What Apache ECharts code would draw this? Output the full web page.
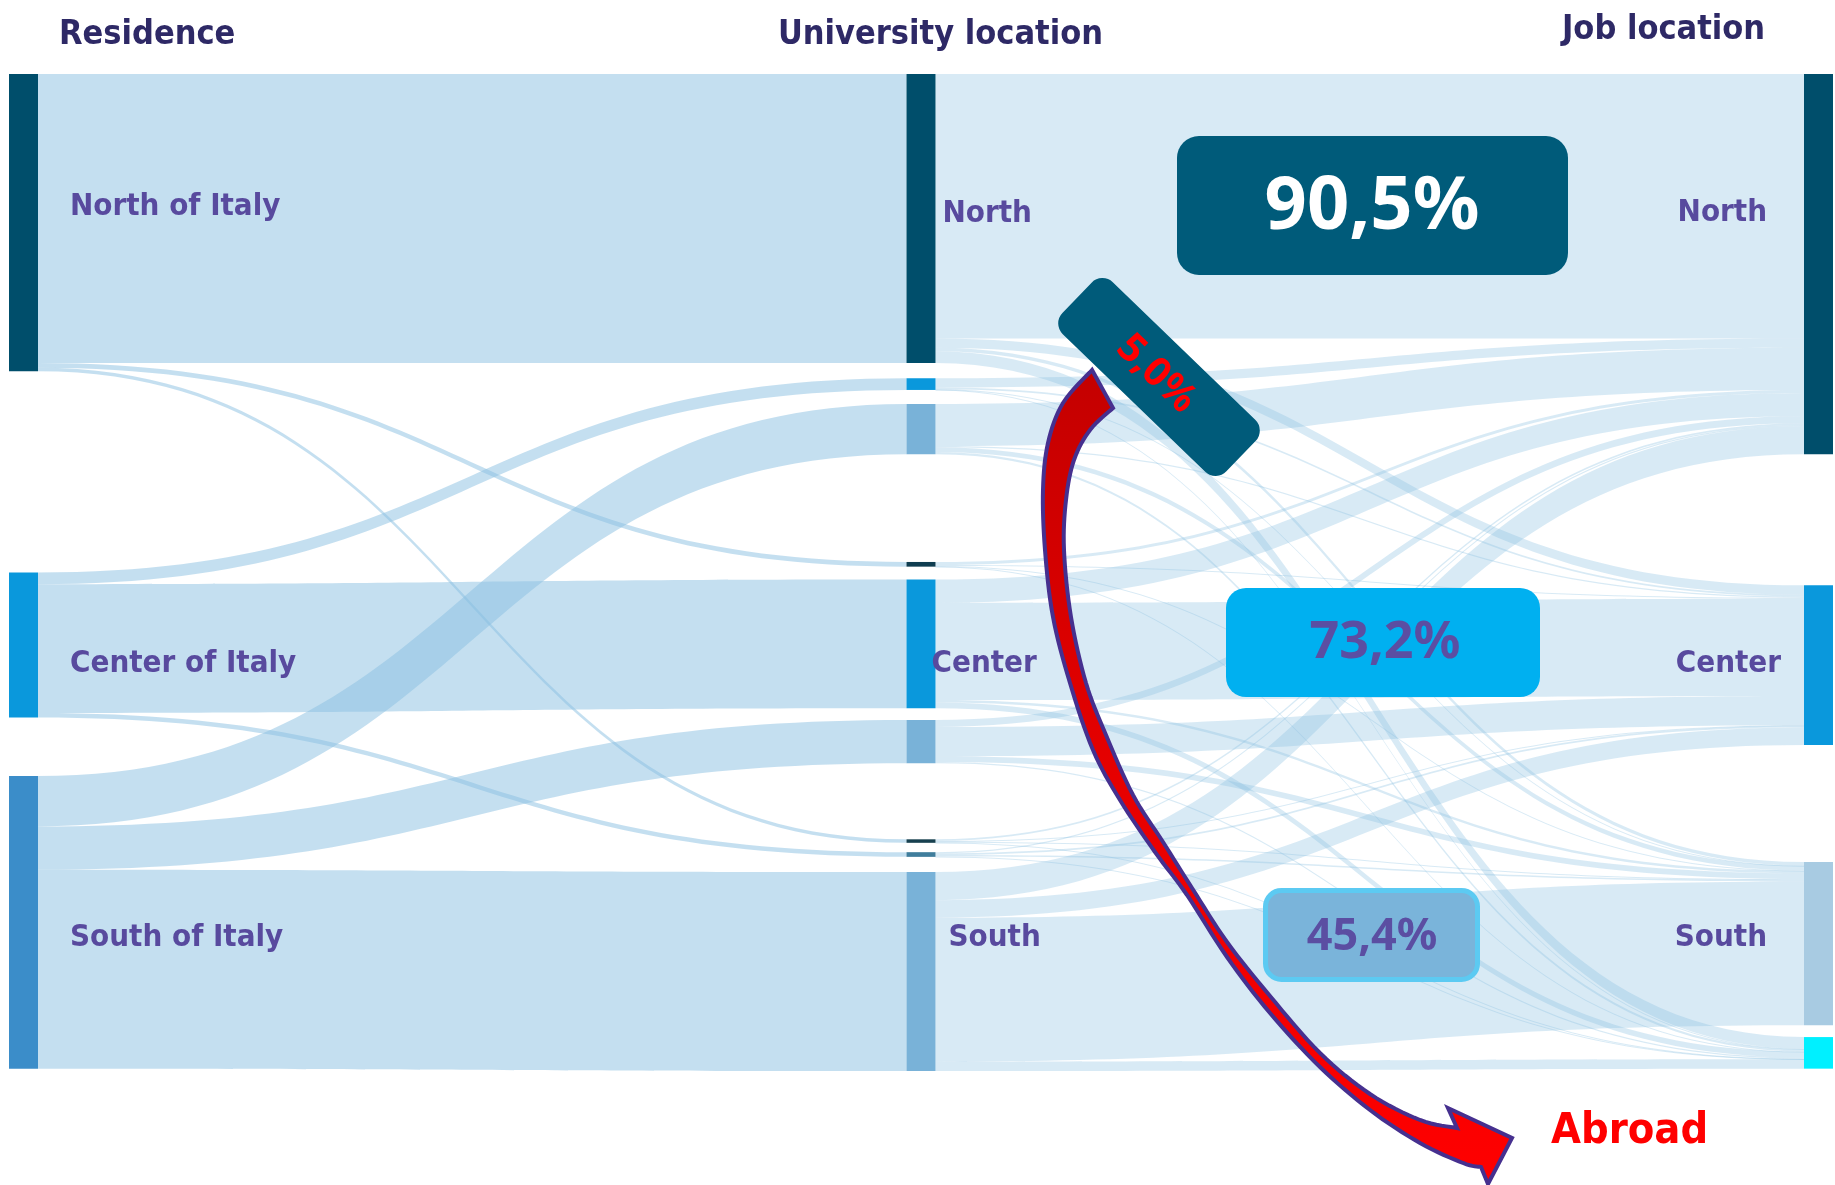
<!DOCTYPE html>
<html>
<head>
<meta charset="utf-8">
<script src="https://cdn.jsdelivr.net/npm/echarts@6/dist/echarts.min.js"></script>
<style>
html,body{margin:0;padding:0;background:#ffffff;}
#chart{width:1835px;height:1185px;}
</style>
</head>
<body>
<div id="chart"></div>
<script>
// ================= DATA =================
const residences = ['North of Italy', 'Center of Italy', 'South of Italy'];
const universities = ['North', 'Center', 'South'];
const jobs = ['North', 'Center', 'South', 'Abroad'];
// rows: residence (N, C, S) ; columns: university location (N, C, S)
const residenceToUniversity = [
  [247, 4, 3],
  [10, 110, 4],
  [43, 37, 170]
];
// graduates of each university location, rows = residence (N, C, S), columns = job (N, C, S, Abroad)
const fromNorthUniversity  = [[226, 8, 3, 10], [8, 1.5, 0.2, 0.3], [36, 1, 4, 2]];
const fromCenterUniversity = [[2.5, 1, 0.3, 0.2], [20, 83, 2, 5], [6, 25, 5, 1]];
const fromSouthUniversity  = [[1.5, 0.5, 0.8, 0.2], [1, 1.5, 1.2, 0.3], [24, 15, 123, 8]];
const shareLabels = ['90,5%', '73,2%', '45,4%', '5,0%'];
const headers = ['Residence', 'University location', 'Job location'];
const abroadLabel = 'Abroad';

// ================= LAYOUT / STYLE =================
const LAYOUT = { left: 9, top: 74, width: 1824, height: 997, nodeWidth: 29 };
// vertical gaps between nodes of each column, in value units
const GAPS = { left: [172, 50], middle: [13, 12, 92, 11, 10, 65, 8, 13], right: [112, 100, 10] };
const leftColors = ['#004e6b', '#0a98dc', '#3b8dc9'];
const middleColors = ['#004e6b', '#0a98dc', '#79b2d8', '#0f3d50', '#0a98dc', '#79b2d8', '#17404f', '#3f7d9c', '#79b2d8'];
const rightColors = ['#004e6b', '#0a98dc', '#a8cbe2', '#00f0ff'];
const LABEL_FONT = '"DejaVu Sans Condensed", "DejaVu Sans", sans-serif';
const labelColor = '#584a9e';

const uniFlows = [fromNorthUniversity, fromCenterUniversity, fromSouthUniversity];

// node names
const resName = r => residences[r];
const uniName = (u, r) => 'University ' + universities[u] + ' / ' + residences[r];
const jobName = j => 'Job ' + jobs[j];

// values per column
const leftVals = residences.map((_, r) => residenceToUniversity[r].reduce((a, b) => a + b, 0));
const middleKeys = [];
universities.forEach((_, u) => residences.forEach((_, r) => middleKeys.push([u, r])));
const middleVals = middleKeys.map(([u, r]) => residenceToUniversity[r][u]);
const rightVals = jobs.map((_, j) => {
  let s = 0;
  uniFlows.forEach(m => m.forEach(row => { s += row[j]; }));
  return s;
});

function tops(vals, gaps) {
  let y = 0;
  return vals.map((v, i) => { const t = y; y += v + (gaps[i] || 0); return t; });
}
const midTotal = middleVals.reduce((a, b) => a + b, 0) + GAPS.middle.reduce((a, b) => a + b, 0);
const ky = LAYOUT.height / midTotal;
const nodeGap = (LAYOUT.height - middleVals.reduce((a, b) => a + b, 0) * ky) / (middleVals.length - 1);
const leftTops = tops(leftVals, GAPS.left);
const middleTops = tops(middleVals, GAPS.middle);
const rightTops = tops(rightVals, GAPS.right);

function lbl(text, position, distance, offset) {
  return {
    show: true, position: position, distance: distance, offset: offset, formatter: text,
    color: labelColor, fontFamily: LABEL_FONT, fontWeight: 'bold', fontSize: 31
  };
}
const leftLabels = [
  lbl('North of Italy', 'right', 32, [0, -16]),
  lbl('Center of Italy', 'right', 32, [0, 19]),
  lbl('South of Italy', 'right', 32, [0, 16])
];
const middleLabels = {
  0: lbl('North', 'right', 7, [0, -5]),
  4: lbl('Center', 'right', 0, [-4, 20]),
  8: lbl('South', 'right', 13, [0, -34])
};
const rightLabels = [
  lbl('North', 'left', 37, [0, -51]),
  lbl('Center', 'left', 23, [0, -1]),
  lbl('South', 'left', 37, [0, -6]),
  { show: false }
];

const nodes = [];
residences.forEach((_, r) => nodes.push({
  name: resName(r), localY: leftTops[r] / midTotal,
  itemStyle: { color: leftColors[r] }, label: leftLabels[r]
}));
middleKeys.forEach(([u, r], i) => nodes.push({
  name: uniName(u, r), localY: middleTops[i] / midTotal,
  itemStyle: { color: middleColors[i] }, label: middleLabels[i] || { show: false }
}));
jobs.forEach((_, j) => nodes.push({
  name: jobName(j), localY: rightTops[j] / midTotal,
  itemStyle: { color: rightColors[j] }, label: rightLabels[j]
}));

const links = [];
residences.forEach((_, r) => universities.forEach((_, u) => {
  links.push({ source: resName(r), target: uniName(u, r), value: residenceToUniversity[r][u],
    lineStyle: { color: '#89bfe1', opacity: 0.5 } });
}));
middleKeys.forEach(([u, r]) => jobs.forEach((_, j) => {
  links.push({ source: uniName(u, r), target: jobName(j), value: uniFlows[u][r][j],
    lineStyle: { color: '#89bfe1', opacity: 0.33 } });
}));

// ---------- red arrow (annotation) ----------
function spline(pts, n) {
  const out = [];
  for (let i = 0; i < pts.length - 1; i++) {
    const p0 = pts[Math.max(i - 1, 0)], p1 = pts[i], p2 = pts[i + 1], p3 = pts[Math.min(i + 2, pts.length - 1)];
    for (let k = 0; k < n; k++) {
      const t = k / n, t2 = t * t, t3 = t2 * t;
      const f = d => 0.5 * (2 * p1[d] + (-p0[d] + p2[d]) * t + (2 * p0[d] - 5 * p1[d] + 4 * p2[d] - p3[d]) * t2 + (-p0[d] + 3 * p1[d] - 3 * p2[d] + p3[d]) * t3);
      out.push([f(0), f(1)]);
    }
  }
  out.push(pts[pts.length - 1]);
  return out;
}
const arrowOuter = [[1092,370],[1063,403],[1048,443],[1043,490],[1045,550],[1053,617],[1070,683],[1093,750],[1120,800],[1155,852],[1187,895],[1227,957],[1270,1013],[1320,1067],[1370,1110],[1420,1143],[1463,1163],[1481,1167]];
const arrowHead = [[1488,1184],[1512,1138],[1448,1108]];
const arrowInner = [[1457,1128],[1420,1120],[1370,1094],[1320,1053],[1270,996],[1227,942],[1192,888],[1163,842],[1133,795],[1106,735],[1086,683],[1071,617],[1064,550],[1066,500],[1074,460],[1090,430],[1113,408]];
const arrowPoints = spline(arrowOuter, 8).concat(arrowHead).concat(spline(arrowInner, 8));

const PCT_FONT = '"Noto Sans", "Open Sans", sans-serif';
const titleStyle = (text) => ({ text: text, fill: '#2e2966', fontFamily: LABEL_FONT, fontWeight: 'bold', fontSize: 34, verticalAlign: 'middle', textVerticalAlign: 'middle' });
const centered = { align: 'center', textAlign: 'center', verticalAlign: 'middle', textVerticalAlign: 'middle' };

const chart = echarts.init(document.getElementById('chart'), null, { renderer: 'canvas' });
chart.setOption({
  backgroundColor: '#ffffff',
  animation: false,
  series: [{
    type: 'sankey',
    left: LAYOUT.left, top: LAYOUT.top, width: LAYOUT.width, height: LAYOUT.height,
    nodeWidth: LAYOUT.nodeWidth,
    nodeGap: nodeGap,
    layoutIterations: 0,
    draggable: false,
    emphasis: { disabled: true },
    label: { show: false },
    itemStyle: { borderWidth: 0 },
    lineStyle: { curveness: 0.5 },
    data: nodes,
    links: links
  }],
  graphic: { elements: [
    { type: 'text', x: 59, y: 35, z: 100, style: titleStyle(headers[0]) },
    { type: 'text', x: 778, y: 35, z: 100, style: titleStyle(headers[1]) },
    { type: 'text', x: 1562, y: 30, z: 100, style: titleStyle(headers[2]) },
    { type: 'polygon', z: 100, shape: { points: arrowPoints },
      style: { fill: { type: 'linear', x: 0, y: 0, x2: 0, y2: 1, colorStops: [{ offset: 0, color: '#c40000' }, { offset: 0.5, color: '#e60000' }, { offset: 1, color: '#ff0000' }] },
        stroke: '#46308f', lineWidth: 4, lineJoin: 'miter' } },
    { type: 'group', x: 1159, y: 377, rotation: -44 * Math.PI / 180, z: 101, children: [
      { type: 'rect', z: 101, shape: { x: -114, y: -36, width: 228, height: 72, r: 15 }, style: { fill: '#005b7a' } },
      { type: 'text', z: 102, x: -4, y: 0, style: Object.assign({ text: shareLabels[3], fill: '#ff0000', fontFamily: PCT_FONT, fontWeight: 'bold', fontSize: 40 }, centered) }
    ] },
    { type: 'rect', z: 100, shape: { x: 1177, y: 136, width: 391, height: 139, r: 22 }, style: { fill: '#005b7a' } },
    { type: 'text', z: 101, x: 1372, y: 208, style: Object.assign({ text: shareLabels[0], fill: '#ffffff', fontFamily: PCT_FONT, fontWeight: 'bold', fontSize: 74 }, centered) },
    { type: 'rect', z: 100, shape: { x: 1226, y: 588, width: 314, height: 109, r: 20 }, style: { fill: '#00b0f0' } },
    { type: 'text', z: 101, x: 1385, y: 643, style: Object.assign({ text: shareLabels[1], fill: '#5b4ea2', fontFamily: PCT_FONT, fontWeight: 'bold', fontSize: 52 }, centered) },
    { type: 'rect', z: 100, shape: { x: 1265.5, y: 890.5, width: 212, height: 89, r: 16 }, style: { fill: '#7ab4da', stroke: '#5ccaf2', lineWidth: 5 } },
    { type: 'text', z: 101, x: 1372, y: 937, style: Object.assign({ text: shareLabels[2], fill: '#5b4ea2', fontFamily: PCT_FONT, fontWeight: 'bold', fontSize: 45 }, centered) },
    { type: 'text', z: 101, x: 1551, y: 1132, style: { text: abroadLabel, fill: '#ff0000', fontFamily: LABEL_FONT, fontWeight: 'bold', fontSize: 43, verticalAlign: 'middle', textVerticalAlign: 'middle' } }
  ] }
});
</script>
</body>
</html>
